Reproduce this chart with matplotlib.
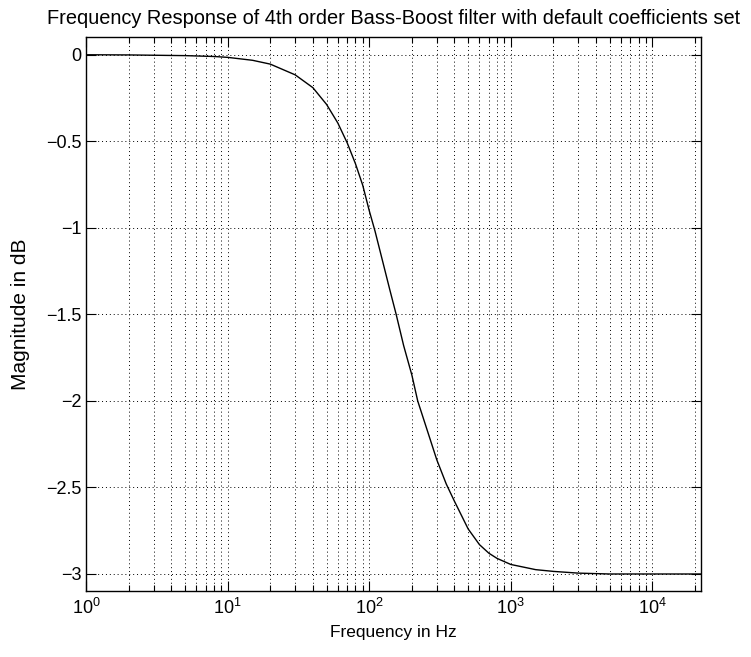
import matplotlib
matplotlib.use("Agg")
import matplotlib.pyplot as plt
from matplotlib.ticker import LogLocator, NullFormatter

# frequency response
freq_hz = [1, 2, 5, 8, 10, 15, 20, 30, 40, 50, 60, 70, 80, 90, 100, 110, 125,
           140, 155, 175, 200, 220, 250, 300, 350, 400, 500, 600, 700, 800,
           1000, 1500, 2000, 3000, 5000, 10000, 22050]
mag_db = [0.0, -0.001, -0.005, -0.01, -0.015, -0.032, -0.054, -0.116, -0.19,
          -0.287, -0.394, -0.51, -0.63, -0.754, -0.9, -1.02, -1.2, -1.36,
          -1.5, -1.68, -1.85, -2.0, -2.14, -2.34, -2.48, -2.58, -2.74, -2.83,
          -2.88, -2.91, -2.945, -2.975, -2.985, -2.995, -3.0, -3.0, -3.0]
y_ticks = [0, -0.5, -1, -1.5, -2, -2.5, -3]
y_ticklabels = ["0", "\u22120.5", "\u22121", "\u22121.5", "\u22122", "\u22122.5", "\u22123"]

plt.rcParams['font.family'] = ['Liberation Sans', 'DejaVu Sans']
plt.rcParams['font.size'] = 12
plt.rcParams['mathtext.fontset'] = 'custom'
plt.rcParams['mathtext.rm'] = 'Liberation Sans'

fig = plt.figure(figsize=(7.51, 6.57), dpi=100)
ax = fig.add_axes([0.1145, 0.100, 0.819, 0.843])

ax.semilogx(freq_hz, mag_db, color='black', linewidth=1.0)
ax.set_xlim(1, 22050)
ax.set_ylim(-3.1, 0.1)
ax.set_yticks(y_ticks)
ax.set_yticklabels(y_ticklabels)
ax.xaxis.set_major_locator(LogLocator(base=10, numticks=10))
ax.xaxis.set_minor_locator(LogLocator(base=10, subs=range(2, 10), numticks=20))
ax.xaxis.set_minor_formatter(NullFormatter())

dots = (0, (1, 3))
ax.grid(True, which='major', color='black', linestyle=dots, linewidth=0.7)
ax.grid(True, which='minor', axis='x', color='black', linestyle=dots, linewidth=0.7)

ax.tick_params(which='both', direction='in', top=True, right=True, color='black')
ax.tick_params(which='major', length=7, width=0.8, labelsize=13)
ax.tick_params(axis='x', which='major', pad=5)
ax.tick_params(which='minor', length=4, width=0.8)
for s in ax.spines.values():
    s.set_linewidth(1.0)

ax.set_title("Frequency Response of 4th order Bass-Boost filter with default coefficients set",
             fontsize=14.4, pad=10)
ax.set_xlabel("Frequency in Hz", fontsize=12.5, labelpad=5)
ax.set_ylabel("Magnitude in dB", fontsize=15, labelpad=11)

fig.savefig("out.png", dpi=100)
